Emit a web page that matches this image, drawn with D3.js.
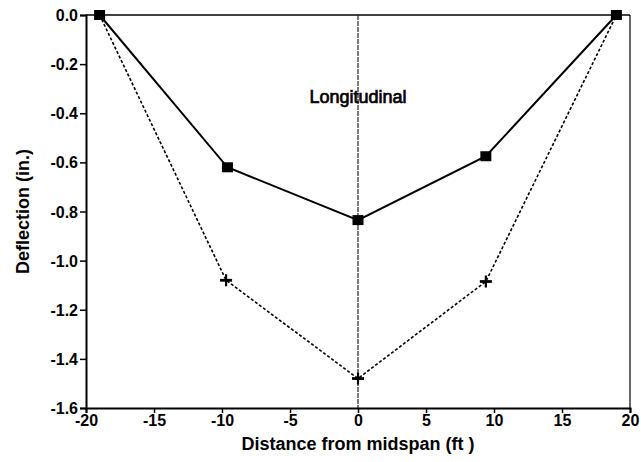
<!DOCTYPE html>
<html>
<head>
<meta charset="utf-8">
<script src="https://cdn.jsdelivr.net/npm/d3@7"></script>
<style>
  html, body { margin: 0; padding: 0; background: #fff; }
  svg text { font-family: "Liberation Sans", Arial, sans-serif; font-weight: bold; fill: #000; }
</style>
</head>
<body>
<svg id="chart" width="641" height="462"></svg>
<script>
// Data
const distanceSolid = [-19, -9.6, 0, 9.4, 19];
const deflectionSolid = [0, -0.62, -0.835, -0.575, 0];
const distanceDashed = [-19, -9.7, 0, 9.4, 19];
const deflectionDashed = [0, -1.08, -1.48, -1.085, 0];
const xTicks = [-20, -15, -10, -5, 0, 5, 10, 15, 20];
const yTicks = [0, -0.2, -0.4, -0.6, -0.8, -1.0, -1.2, -1.4, -1.6];
const annotation = "Longitudinal";
const xTitle = "Distance from midspan (ft )";
const yTitle = "Deflection (in.)";

const svg = d3.select("#chart");
const margin = { left: 86, right: 11, top: 15, bottom: 54 };
const W = 641, H = 462;
const x = d3.scaleLinear().domain([-20, 20]).range([margin.left, W - margin.right]);
const y = d3.scaleLinear().domain([-1.6, 0]).range([H - margin.bottom, margin.top]);

// Frame (top & right)
svg.append("line").attr("x1", x(-20)).attr("x2", x(20)).attr("y1", y(0)).attr("y2", y(0))
  .attr("stroke", "#000").attr("stroke-width", 1.6);
svg.append("line").attr("x1", x(20)).attr("x2", x(20)).attr("y1", y(0)).attr("y2", y(-1.6))
  .attr("stroke", "#000").attr("stroke-width", 1.2);

// Midspan line
svg.append("line").attr("x1", x(0)).attr("x2", x(0)).attr("y1", y(0)).attr("y2", y(-1.6))
  .attr("stroke", "#222").attr("stroke-width", 1.2).attr("stroke-dasharray", "5,1");

// Axes
const xAxis = d3.axisBottom(x).tickValues(xTicks).tickSize(5).tickPadding(2);
const gx = svg.append("g").attr("transform", `translate(0,${y(-1.6)})`).call(xAxis);
gx.select(".domain").attr("stroke-width", 2);
gx.selectAll(".tick line").attr("stroke-width", 1.5);
gx.selectAll("text").style("font-size", "16px").text(d => String(d));

const yAxis = d3.axisLeft(y).tickValues(yTicks).tickSize(6).tickPadding(2);
const gy = svg.append("g").attr("transform", `translate(${x(-20)},0)`).call(yAxis);
gy.select(".domain").attr("stroke-width", 2);
gy.selectAll(".tick line").attr("stroke-width", 1.5);
gy.selectAll("text").style("font-size", "16px").attr("dy", "0.35em")
  .text(d => d === 0 ? "0.0" : d3.format(".1f")(d).replace("−", "-"));

// Lines
const solidData = distanceSolid.map((d, i) => [d, deflectionSolid[i]]);
const dashedData = distanceDashed.map((d, i) => [d, deflectionDashed[i]]);
const line = d3.line().x(d => x(d[0])).y(d => y(d[1]));

svg.append("path").datum(dashedData).attr("d", line).attr("fill", "none")
  .attr("stroke", "#000").attr("stroke-width", 1.6).attr("stroke-dasharray", "3,2");
svg.append("path").datum(solidData).attr("d", line).attr("fill", "none")
  .attr("stroke", "#000").attr("stroke-width", 2);

// Plus markers
svg.selectAll(".plus").data(dashedData.slice(1, 4)).enter().append("g")
  .attr("transform", d => `translate(${x(d[0])},${y(d[1])})`)
  .each(function() {
    const g = d3.select(this);
    g.append("line").attr("x1", -6).attr("x2", 6).attr("y1", 0).attr("y2", 0).attr("stroke", "#000").attr("stroke-width", 2.8);
    g.append("line").attr("x1", 0).attr("x2", 0).attr("y1", -6).attr("y2", 6).attr("stroke", "#000").attr("stroke-width", 2.2);
  });

// Square markers
svg.selectAll(".sq").data(solidData).enter().append("rect")
  .attr("x", d => x(d[0]) - 5.5).attr("y", d => y(d[1]) - 5)
  .attr("width", 11).attr("height", 10).attr("fill", "#000");

// Annotation
svg.append("text").attr("x", x(0)).attr("y", 103).attr("text-anchor", "middle")
  .style("font-size", "18px").style("font-weight", "normal").style("stroke", "#000").style("stroke-width", 0.7).text(annotation);

// Axis titles
svg.append("text").attr("x", x(0)).attr("y", 450).attr("text-anchor", "middle")
  .style("font-size", "18px").text(xTitle);
svg.append("text").attr("transform", `translate(29,${(y(0) + y(-1.6)) / 2}) rotate(-90)`)
  .attr("text-anchor", "middle").style("font-size", "18px").text(yTitle);
</script>
</body>
</html>
